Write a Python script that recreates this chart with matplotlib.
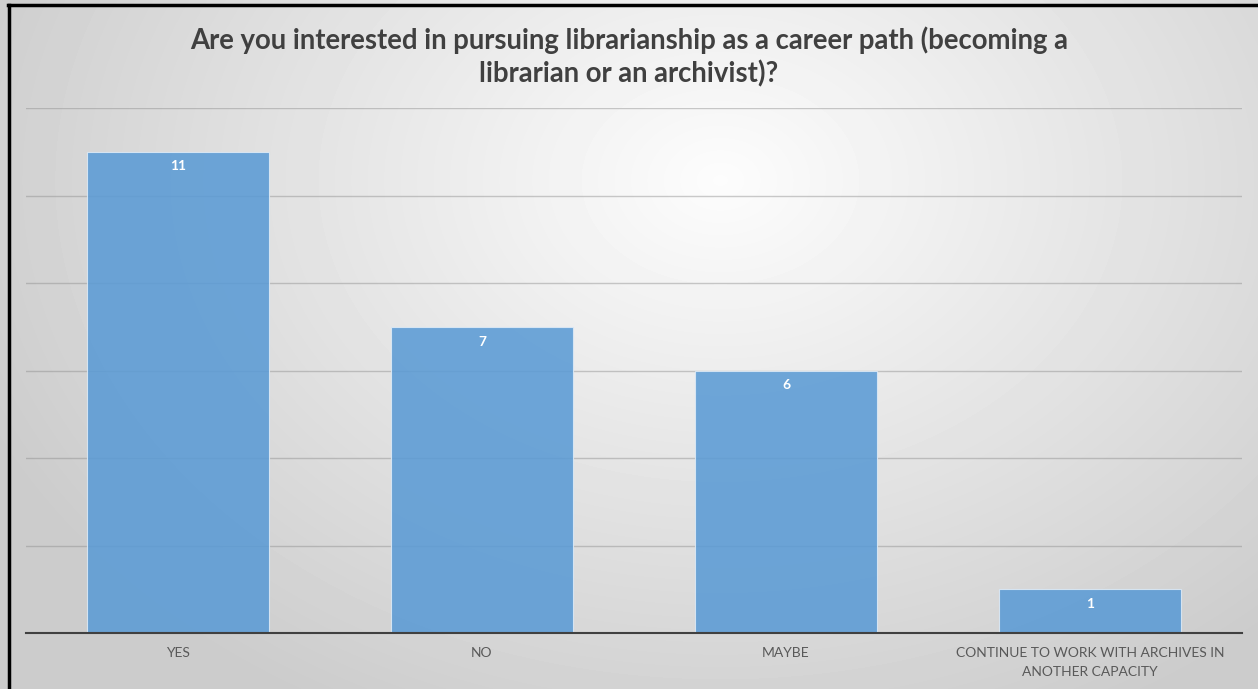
import numpy as np
import matplotlib.pyplot as plt

# data
categories = ['YES', 'NO', 'MAYBE', 'CONTINUE TO WORK WITH ARCHIVES IN\nANOTHER CAPACITY']
counts = [11, 7, 6, 1]
title = 'Are you interested in pursuing librarianship as a career path (becoming a\nlibrarian or an archivist)?'

W, H = 1258, 689
fig = plt.figure(figsize=(W / 100, H / 100), dpi=100)

# radial gradient background
bg = fig.add_axes([0, 0, 1, 1], zorder=0)
yy, xx = np.mgrid[0:H, 0:W]
d = np.sqrt(((xx - 720) / 800.0) ** 2 + ((yy - 180) / 600.0) ** 2)
shade = np.clip(0.99 - 0.19 * d, 0.8, 1.0)
bg.imshow(shade, cmap='gray', vmin=0, vmax=1, aspect='auto', extent=[0, W, H, 0])
bg.set_xlim(0, W)
bg.set_ylim(H, 0)
bg.axis('off')
# black frame (top and left)
bg.plot([8, W], [5, 5], color='black', lw=2.5)
bg.plot([9, 9], [5, H], color='black', lw=2.5)

ax = fig.add_axes([26 / W, 56 / H, (1242 - 26) / W, (633 - 108) / H], zorder=1)
ax.patch.set_alpha(0)
x = np.arange(len(categories))
bars = ax.bar(x, counts, width=0.6, color='#5b9bd5', alpha=0.88,
              edgecolor='#ddeaf6', linewidth=0.8, zorder=2)
for b, v in zip(bars, counts):
    ax.text(b.get_x() + b.get_width() / 2, v - 0.2, str(v), ha='center', va='top',
            color='white', fontsize=10, fontweight='bold', family='Lato', zorder=3)

ax.set_xlim(-0.5, len(categories) - 0.5)
ax.set_ylim(0, 12)
ax.set_yticks(np.arange(0, 13, 2))
ax.yaxis.grid(True, color='#8c8c8c', linewidth=1.0, alpha=0.45, zorder=0)
ax.tick_params(axis='y', left=False, labelleft=False)
ax.tick_params(axis='x', length=0, pad=10)
ax.set_xticks(x)
ax.set_xticklabels(categories, fontsize=10, color='#595959', family='Lato', linespacing=1.75)
for s in ['top', 'right', 'left']:
    ax.spines[s].set_visible(False)
ax.spines['bottom'].set_color('#404040')
ax.spines['bottom'].set_linewidth(1.5)
ax.spines['bottom'].set_zorder(4)

fig.text(0.5, 1 - 26 / H, title, ha='center', va='top', fontsize=19.8,
         fontweight='bold', color='#404040', family='Lato', linespacing=1.3)

fig.savefig('out.png', dpi=100)
